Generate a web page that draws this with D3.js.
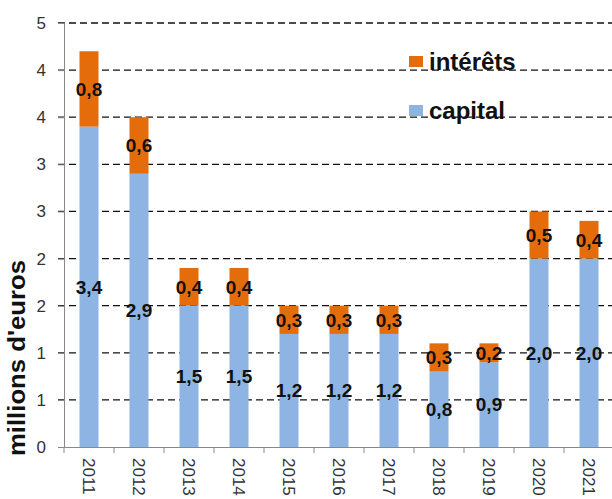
<!DOCTYPE html>
<html>
<head>
<meta charset="utf-8">
<script src="https://cdn.jsdelivr.net/npm/d3@7"></script>
<style>
  html, body { margin: 0; padding: 0; background: #fff; }
  svg { display: block; }
</style>
</head>
<body>
<svg id="chart" width="612" height="499"></svg>
<script>
// Remboursements annuels : capital + intérêts (millions d'euros)
const years = ["2011", "2012", "2013", "2014", "2015", "2016", "2017", "2018", "2019", "2020", "2021"];
const capital = [3.4, 2.9, 1.5, 1.5, 1.2, 1.2, 1.2, 0.8, 0.9, 2.0, 2.0];
const interets = [0.8, 0.6, 0.4, 0.4, 0.3, 0.3, 0.3, 0.3, 0.2, 0.5, 0.4];
const yTicks = [0, 0.5, 1, 1.5, 2, 2.5, 3, 3.5, 4, 4.5];
const seriesNames = ["intérêts", "capital"];

const colors = { capital: "#8DB4E2", interets: "#E46C0A" };
const svg = d3.select("#chart");
const margin = { left: 64, top: 23, right: -2, bottom: 52 };
const W = 612, H = 499;
const font = "Arial, 'Liberation Sans', sans-serif";

const x = d3.scaleBand().domain(years)
  .range([margin.left, W - margin.right]).paddingInner(0.62).paddingOuter(0.31);
const y = d3.scaleLinear().domain([0, 4.5]).range([H - margin.bottom, margin.top]);

// Excel-style "0" number format: round half away from zero
const fmtTick = v => String(Math.round(v));
const fmtLabel = v => d3.format(".1f")(v).replace(".", ",");

// dashed gridlines
svg.append("g").selectAll("line").data(yTicks.filter(t => t > 0)).join("line")
  .attr("x1", margin.left - 6).attr("x2", W)
  .attr("y1", d => y(d)).attr("y2", d => y(d))
  .attr("stroke", "#111").attr("stroke-width", 1.3)
  .attr("stroke-dasharray", "7,4");

// y axis
const yAxis = svg.append("g").attr("transform", `translate(${margin.left},0)`)
  .call(d3.axisLeft(y).tickValues(yTicks).tickFormat(fmtTick).tickSize(6).tickPadding(12));
yAxis.select(".domain").attr("stroke", "#888");
yAxis.selectAll(".tick line").attr("stroke", "#888");
yAxis.selectAll("text").attr("font-family", font)
  .attr("font-size", 17).attr("fill", "#333");

// stacked bars
const stackData = years.map((yr, i) => ({ year: yr, capital: capital[i], interets: interets[i] }));
const stack = d3.stack().keys(["capital", "interets"])(stackData);
svg.append("g").selectAll("g").data(stack).join("g")
  .attr("fill", s => colors[s.key])
  .selectAll("rect").data(s => s).join("rect")
  .attr("x", d => x(d.data.year))
  .attr("width", x.bandwidth())
  .attr("y", d => y(d[1]))
  .attr("height", d => y(d[0]) - y(d[1]));

// x axis
const xAxis = svg.append("g").attr("transform", `translate(0,${y(0)})`)
  .call(d3.axisBottom(x).tickSize(0).tickFormat(d => d));
xAxis.select(".domain").attr("stroke", "#888");
xAxis.selectAll("text")
  .attr("font-family", font)
  .attr("font-size", 17).attr("fill", "#333")
  .attr("text-anchor", "start")
  .attr("transform", "rotate(90)")
  .attr("x", 11).attr("y", 0).attr("dy", "0.35em");
// category boundary ticks
const step = x.step();
svg.append("g").selectAll("line").data(d3.range(years.length + 1)).join("line")
  .attr("x1", i => margin.left + i * step).attr("x2", i => margin.left + i * step)
  .attr("y1", y(0)).attr("y2", y(0) + 6)
  .attr("stroke", "#888");

// value labels
stack.forEach(s => {
  svg.append("g").selectAll("text").data(s).join("text")
    .attr("x", d => x(d.data.year) + x.bandwidth() / 2)
    .attr("y", d => (y(d[0]) + y(d[1])) / 2)
    .attr("dy", "0.36em")
    .attr("text-anchor", "middle")
    .attr("font-family", font).attr("font-weight", "bold")
    .attr("font-size", 19).attr("fill", "#111")
    .text(d => fmtLabel(d[1] - d[0]));
});

// y axis title
svg.append("text")
  .attr("transform", "translate(25,358) rotate(-90)")
  .attr("text-anchor", "middle")
  .attr("font-family", font).attr("font-weight", "bold")
  .attr("font-size", 23).attr("fill", "#111")
  .attr("textLength", 196).attr("lengthAdjust", "spacingAndGlyphs")
  .text("millions  d'euros");

// legend
const legendKeys = ["interets", "capital"];
const legend = svg.append("g").selectAll("g").data(legendKeys).join("g")
  .attr("transform", (d, i) => `translate(409,${56 + i * 49})`);
legend.append("rect").attr("width", 14).attr("height", 11)
  .attr("fill", d => colors[d]);
legend.append("text").attr("x", 20).attr("y", 14)
  .attr("font-family", font).attr("font-weight", "bold")
  .attr("font-size", 24).attr("fill", "#111")
  .text((d, i) => seriesNames[i]);
</script>
</body>
</html>
